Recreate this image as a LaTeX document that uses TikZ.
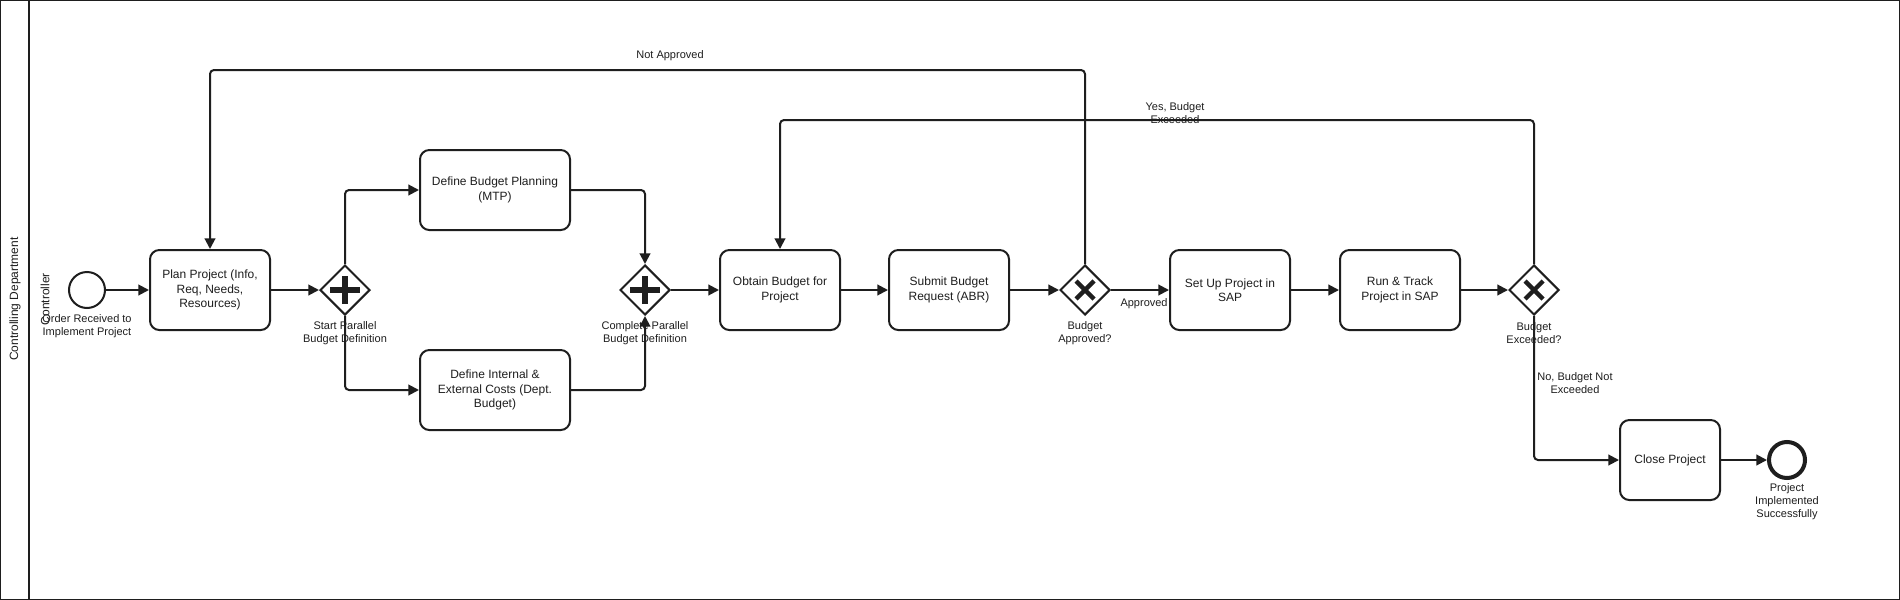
\documentclass[tikz,border=0pt]{standalone}
\usepackage{fontspec}
\setmainfont{Liberation Sans}
\usetikzlibrary{shapes.geometric, arrows.meta}
\definecolor{ink}{RGB}{30,30,30}

\begin{document}
\begin{tikzpicture}[x=0.75pt, y=-0.75pt, color=ink, >={Triangle[length=8pt, width=8pt]},
  task/.style={draw, line width=1.5pt, rounded corners=7pt, minimum width=90pt,
    minimum height=60pt, align=center, inner sep=2pt, font=\fontsize{9}{10.9}\selectfont},
  gate/.style={draw, diamond, line width=1.5pt, minimum size=37.5pt, inner sep=0pt, fill=white},
  event/.style={draw, circle, line width=1.5pt, minimum size=27pt, inner sep=0pt},
  flow/.style={->, line width=1.5pt, rounded corners=3pt},
  lbl/.style={align=center, inner sep=0pt, font=\fontsize{8.25}{9.75}\selectfont}]
\useasboundingbox (0,0) rectangle (1900,600);
\fill [white] (0,0) rectangle (1900,600);
\draw [line width=0.75pt] (0.5,0.5) rectangle (1899.5,599.5);
\draw [line width=1.5pt] (29,0) -- (29,600);
\node [rotate=90, font=\fontsize{9}{10.9}\selectfont] (lane) at (15,299) {Controlling Department};
\node [rotate=90, font=\fontsize{9}{10.9}\selectfont] (role) at (45,299) {Controller};

% events
\node [event] (start) at (87,290) {};
\node [lbl] (start-lbl) at (87,326) {Order Received to\\Implement Project};
\node [event, line width=3pt] (end) at (1787,460) {};
\node [lbl] (end-lbl) at (1787,502) {Project\\Implemented\\Successfully};

% tasks
\foreach \n/\x/\t in {plan/210/{Plan Project (Info,\\Req, Needs,\\Resources)},
    obtain/780/{Obtain Budget for\\Project}, submit/949/{Submit Budget\\Request (ABR)},
    setup/1230/{Set Up Project in\\SAP}, track/1400/{Run \& Track\\Project in SAP}}
  \node [task] (\n) at (\x, 290) {\t};

\node [task, minimum width=112.5pt] (dbp) at (495,190) {Define Budget Planning\\(MTP)};
\node [task, minimum width=112.5pt] (dic) at (495,390) {Define Internal \&\\External Costs (Dept.\\Budget)};
\node [task, minimum width=75pt] (close) at (1670,460) {Close Project};

% gateways
\foreach \n/\x/\t in {g1/345/{Start Parallel\\Budget Definition},
    g2/645/{Complete Parallel\\Budget Definition},
    g3/1085/{Budget\\Approved?}, g4/1534/{Budget\\Exceeded?}}
{
  \node [gate] (\n) at (\x, 290) {};
  \node [lbl] (\n-lbl) at (\x, 333) {\t};
}

\foreach \g in {g1, g2}
  \draw [line width=5pt] (\g.center) +(-15,0) -- +(15,0) +(0,-14) -- +(0,14);
\foreach \g in {g3, g4}
  \draw [line width=3.2pt] (\g.center) +(-9,-9) -- +(9,9) +(-9,9) -- +(9,-9);

% sequence flows
\draw [flow] (start) -- (plan);
\draw [flow] (plan) -- (g1);
\draw [flow] (g1) |- (dbp);
\draw [flow] (g1) |- (dic);
\draw [flow] (dbp) -| (g2);
\draw [flow] (dic) -| (g2);
\draw [flow] (g2) -- (obtain);
\draw [flow] (obtain) -- (submit);
\draw [flow] (submit) -- (g3);
\draw [flow] (g3) -- node [lbl, below=6pt, pos=0.57] (ok-lbl) {Approved} (setup);
\draw [flow] (setup) -- (track);
\draw [flow] (track) -- (g4);
\draw [flow] (g4) |- (close);
\draw [flow] (close) -- (end);

\coordinate (back1) at (1085,70);
\coordinate (back2) at (1534,120);
\draw [flow] (g3) -- (back1) -| (plan);
\draw [flow] (g4) -- (back2) -| (obtain);

\node [lbl] (na-lbl) at (670,56) {Not Approved};
\node [lbl] (ye-lbl) at (1175,113) {Yes, Budget\\Exceeded};
\node [lbl] (no-lbl) at (1575,383) {No, Budget Not\\Exceeded};
\end{tikzpicture}
\end{document}
